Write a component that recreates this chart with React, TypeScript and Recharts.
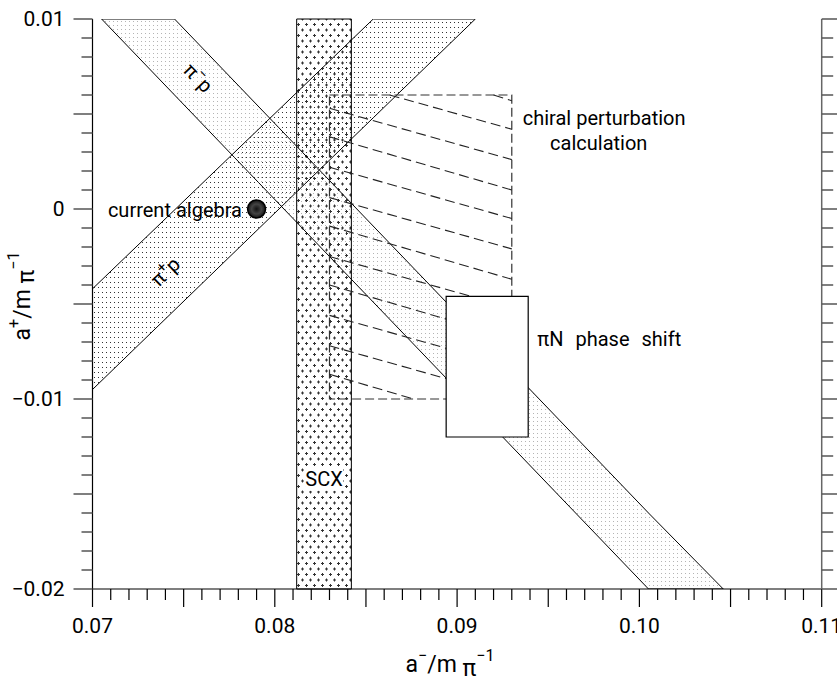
import React from "react";
import {
  ComposedChart,
  XAxis,
  YAxis,
  Area,
  ReferenceArea,
  ReferenceLine,
  ReferenceDot,
} from "recharts";

const FONT = "Roboto, 'DejaVu Sans', sans-serif";

// tick labels
const xLabelValues = [0.07, 0.08, 0.09, 0.1, 0.11];
const xLabels = ["0.07", "0.08", "0.09", "0.10", "0.11"];
const yLabelValues = [-0.02, -0.01, 0, 0.01];
const yLabels = ["\u22120.02", "\u22120.01", "0", "0.01"];

// tick marks every 0.001 (long ones every 0.005)
const xTicks = Array.from({ length: 41 }, (_, i) => +(0.07 + i * 0.001).toFixed(3));
const yTicks = Array.from({ length: 31 }, (_, i) => +(-0.02 + i * 0.001).toFixed(3));

// pi- p band outline: a- and [lower a+, upper a+]
const piMinusX = [0.0705, 0.0745, 0.1005, 0.1046];
const piMinusLow = [0.01, 0.006, -0.02, -0.02];
const piMinusHigh = [0.01, 0.01, -0.016, -0.02];

// pi+ p band outline
const piPlusX = [0.07, 0.0854, 0.091];
const piPlusLow = [-0.0095, 0.0048, 0.01];
const piPlusHigh = [-0.0042, 0.01, 0.01];

// SCX band (a- range)
const scx = [0.0812, 0.0842];

// chiral perturbation box [x1, x2, y1, y2] and its hatch segments
const chiralBox = [0.083, 0.093, -0.01, 0.006];
const chiralHatch = [
  [0.092, 0.006, 0.093, 0.0057],
  [0.0863, 0.006, 0.093, 0.0042],
  [0.083, 0.0053, 0.093, 0.0026],
  [0.083, 0.0038, 0.093, 0.001],
  [0.083, 0.0022, 0.093, -0.0005],
  [0.083, 0.0006, 0.093, -0.0021],
  [0.083, -0.0009, 0.093, -0.0037],
  [0.083, -0.0025, 0.093, -0.0052],
  [0.083, -0.004, 0.093, -0.0068],
  [0.083, -0.0056, 0.093, -0.0083],
  [0.083, -0.0072, 0.093, -0.0099],
  [0.083, -0.0087, 0.0876, -0.01],
];

// pi N phase shift box
const phaseShiftBox = [0.0894, 0.0939, -0.012, -0.0046];

// current algebra point
const currentAlgebra = { x: 0.079, y: 0 };

const piMinusData = piMinusX.map((x, i) => ({ x, band: [piMinusLow[i], piMinusHigh[i]] }));
const piPlusData = piPlusX.map((x, i) => ({ x, band: [piPlusLow[i], piPlusHigh[i]] }));

const isMajor = (v: number) => Math.round(v * 1000) % 5 === 0;
const findLabel = (vals: number[], v: number) => vals.findIndex((l) => Math.abs(l - v) < 1e-6);

const XTick = ({ x, y, payload }: any) => {
  const idx = findLabel(xLabelValues, payload.value);
  return (
    <g>
      <line x1={x} y1={y} x2={x} y2={y + (isMajor(payload.value) ? 18 : 11)} stroke="#000" strokeWidth={1.2} />
      {idx >= 0 && (
        <text x={x} y={y + 44} textAnchor="middle" fontSize={21} fontFamily={FONT} fill="#000">
          {xLabels[idx]}
        </text>
      )}
    </g>
  );
};

const YTickLeft = ({ x, y, payload }: any) => {
  const idx = findLabel(yLabelValues, payload.value);
  return (
    <g>
      <line x1={x - (isMajor(payload.value) ? 19 : 11)} y1={y} x2={x} y2={y} stroke="#555" strokeWidth={1.5} />
      {idx >= 0 && (
        <text x={x - 28} y={y + 7} textAnchor="end" fontSize={21} fontFamily={FONT} fill="#000">
          {yLabels[idx]}
        </text>
      )}
    </g>
  );
};

const YTickRight = ({ x, y, payload }: any) => (
  <line x1={x} y1={y} x2={x + (isMajor(payload.value) ? 16 : 11.5)} y2={y} stroke="#555" strokeWidth={1.5} />
);

const at = (draw: (cx: number, cy: number) => React.ReactNode) => (props: any) => {
  const vb = props.viewBox || {};
  return draw(vb.x + (vb.width || 0) / 2, vb.y + (vb.height || 0) / 2);
};

const txt = { fontSize: 20, fontFamily: FONT, fill: "#000" };

export default function App() {
  return (
    <div style={{ position: "absolute", left: 0, top: 0, background: "#fff" }}>
      <ComposedChart width={837} height={684} margin={{ top: 19, right: 0, bottom: 0, left: 0 }}>
        <defs>
          <pattern id="dotsLight" width="4" height="4" patternUnits="userSpaceOnUse">
            <rect x="1" y="1" width="1" height="1" fill="#b4b4b4" />
          </pattern>
          <pattern id="dotsDark" width="4" height="5" patternUnits="userSpaceOnUse">
            <rect x="2" y="2" width="1" height="1" fill="#333" />
          </pattern>
          <pattern id="crossDots" width="8" height="11" patternUnits="userSpaceOnUse">
            <rect x="1" y="2" width="3" height="1" fill="#333" />
            <rect x="2" y="1" width="1" height="3" fill="#333" />
            <rect x="5" y="7.5" width="3" height="1" fill="#333" />
            <rect x="6" y="6.5" width="1" height="3" fill="#333" />
          </pattern>
          <radialGradient id="dotFill">
            <stop offset="0%" stopColor="#111" />
            <stop offset="55%" stopColor="#444" />
            <stop offset="100%" stopColor="#111" />
          </radialGradient>
        </defs>

        <XAxis
          dataKey="x"
          type="number"
          domain={[0.07, 0.11]}
          allowDataOverflow
          ticks={xTicks}
          interval={0}
          tickSize={0}
          tickMargin={0}
          tickLine={false}
          tick={(p: any) => <XTick {...p} />}
          height={95}
          axisLine={{ stroke: "#000", strokeWidth: 1.2 }}
          label={{
            content: () => (
              <text x={450} y={672} textAnchor="middle" fontSize={23} fontFamily={FONT} fill="#000">
                a<tspan dy={-11} fontSize={16}>{"\u2212"}</tspan>
                <tspan dy={11}>/m </tspan>
                <tspan dy={4}>{"\u03c0"}</tspan>
                <tspan dy={-15} fontSize={16}>{"\u22121"}</tspan>
              </text>
            ),
          }}
        />
        <XAxis
          xAxisId="top"
          orientation="top"
          type="number"
          domain={[0.07, 0.11]}
          allowDataOverflow
          height={0}
          tick={false}
          tickLine={false}
          axisLine={{ stroke: "#777", strokeWidth: 2 }}
        />
        <YAxis
          type="number"
          domain={[-0.02, 0.01]}
          allowDataOverflow
          ticks={yTicks}
          interval={0}
          tickSize={0}
          tickMargin={0}
          tickLine={false}
          tick={(p: any) => <YTickLeft {...p} />}
          width={92.5}
          axisLine={{ stroke: "#000", strokeWidth: 1.2 }}
          label={{
            content: () => (
              <text
                x={30}
                y={296}
                transform="rotate(-90, 30, 296)"
                textAnchor="middle"
                fontSize={23}
                fontFamily={FONT}
                fill="#000"
              >
                a<tspan dy={-11} fontSize={16}>+</tspan>
                <tspan dy={11}>/m </tspan>
                <tspan dy={4}>{"\u03c0"}</tspan>
                <tspan dy={-15} fontSize={16}>{"\u22121"}</tspan>
              </text>
            ),
          }}
        />
        <YAxis
          yAxisId="right"
          orientation="right"
          type="number"
          domain={[-0.02, 0.01]}
          allowDataOverflow
          ticks={yTicks}
          interval={0}
          tickSize={0}
          tickMargin={0}
          tickLine={false}
          tick={(p: any) => <YTickRight {...p} />}
          width={15.3}
          axisLine={{ stroke: "#666", strokeWidth: 1.5 }}
        />

        <ReferenceArea
          x1={scx[0]}
          x2={scx[1]}
          fill="url(#crossDots)"
          fillOpacity={1}
          stroke="#000"
          strokeWidth={1}
          zIndex={110}
        />
        <Area
          data={piMinusData}
          dataKey="band"
          type="linear"
          stroke="#000"
          strokeWidth={1}
          fill="url(#dotsLight)"
          fillOpacity={1}
          dot={false}
          activeDot={false}
          isAnimationActive={false}
          zIndex={120}
        />
        <Area
          data={piPlusData}
          dataKey="band"
          type="linear"
          stroke="#000"
          strokeWidth={1}
          fill="url(#dotsDark)"
          fillOpacity={1}
          dot={false}
          activeDot={false}
          isAnimationActive={false}
          zIndex={130}
        />
        <ReferenceArea
          x1={chiralBox[0]}
          x2={chiralBox[1]}
          y1={chiralBox[2]}
          y2={chiralBox[3]}
          fill="none"
          fillOpacity={0}
          stroke="#333"
          strokeWidth={1.2}
          strokeDasharray="9 4"
          zIndex={140}
        />
        {chiralHatch.map((s, i) => (
          <ReferenceLine
            key={i}
            segment={[
              { x: s[0], y: s[1] },
              { x: s[2], y: s[3] },
            ]}
            stroke="#222"
            strokeWidth={1.1}
            strokeDasharray="10 5"
            zIndex={150}
          />
        ))}
        <ReferenceArea
          x1={phaseShiftBox[0]}
          x2={phaseShiftBox[1]}
          y1={phaseShiftBox[2]}
          y2={phaseShiftBox[3]}
          fill="#fff"
          fillOpacity={1}
          stroke="#000"
          strokeWidth={1.2}
          zIndex={160}
        />
        <ReferenceDot
          x={currentAlgebra.x}
          y={currentAlgebra.y}
          r={9}
          fill="url(#dotFill)"
          stroke="#000"
          strokeWidth={1.5}
          zIndex={170}
        />

        <ReferenceDot
          x={0.0758}
          y={0.0069}
          r={1}
          fill="none"
          stroke="none"
          label={at((cx, cy) => (
            <text x={cx} y={cy + 7} textAnchor="middle" transform={`rotate(46, ${cx}, ${cy})`} {...txt}>
              {"\u03c0"}
              <tspan dy={-8} fontSize={15}>{"\u2212"}</tspan>
              <tspan dy={8}>p</tspan>
            </text>
          ))}
        />
        <ReferenceDot
          x={0.074}
          y={-0.0033}
          r={1}
          fill="none"
          stroke="none"
          label={at((cx, cy) => (
            <text x={cx} y={cy + 7} textAnchor="middle" transform={`rotate(-44, ${cx}, ${cy})`} {...txt}>
              {"\u03c0"}
              <tspan dy={-8} fontSize={15}>+</tspan>
              <tspan dy={8}>p</tspan>
            </text>
          ))}
        />
        <ReferenceDot
          x={0.0827}
          y={-0.0142}
          r={1}
          fill="none"
          stroke="none"
          label={at((cx, cy) => (
            <g>
              <rect x={cx - 19} y={cy - 12} width={38} height={24} fill="#fff" />
              <text x={cx} y={cy + 7} textAnchor="middle" {...txt}>
                SCX
              </text>
            </g>
          ))}
        />
        <ReferenceDot
          x={0.0782}
          y={-0.0004}
          r={1}
          fill="none"
          stroke="none"
          label={at((cx, cy) => (
            <text x={cx} y={cy} textAnchor="end" {...txt}>
              current algebra
            </text>
          ))}
        />
        <ReferenceDot
          x={0.0936}
          y={0.0044}
          r={1}
          fill="none"
          stroke="none"
          label={at((cx, cy) => (
            <text x={cx} y={cy} textAnchor="start" {...txt}>
              chiral perturbation
            </text>
          ))}
        />
        <ReferenceDot
          x={0.0951}
          y={0.0031}
          r={1}
          fill="none"
          stroke="none"
          label={at((cx, cy) => (
            <text x={cx} y={cy} textAnchor="start" {...txt}>
              calculation
            </text>
          ))}
        />
        <ReferenceDot
          x={0.0944}
          y={-0.0072}
          r={1}
          fill="none"
          stroke="none"
          label={at((cx, cy) => (
            <text x={cx} y={cy} textAnchor="start" wordSpacing={7} {...txt}>
              {"\u03c0"}N phase shift
            </text>
          ))}
        />
      </ComposedChart>
    </div>
  );
}
